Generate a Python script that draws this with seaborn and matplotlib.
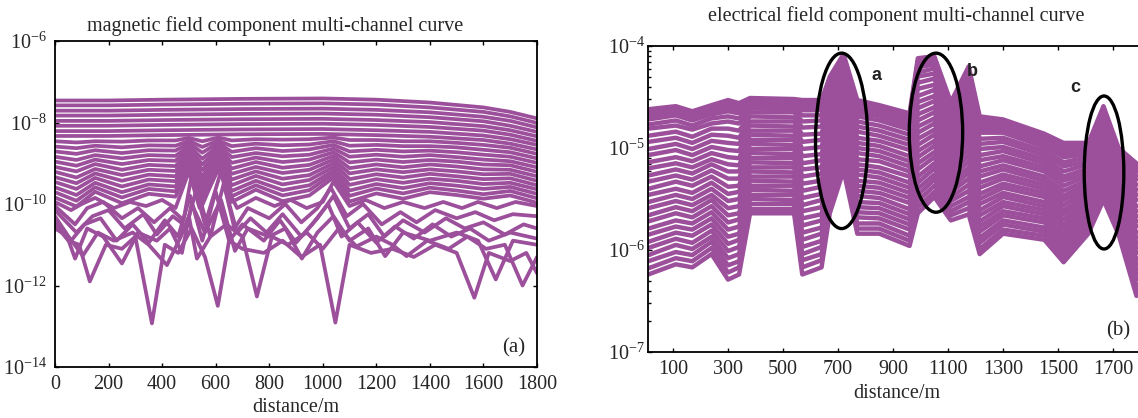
import numpy as np
import pandas as pd
import matplotlib
matplotlib.use("Agg")
import matplotlib.pyplot as plt
import seaborn as sns
from matplotlib.patches import Ellipse
from matplotlib.ticker import NullLocator, LogLocator

# ------------------------------------------------------------------
# DATA  (values are log10 of the field amplitude)
# ------------------------------------------------------------------
# ---- (a) magnetic field component: early (smooth) channels ----
mag_x_upper = [0, 200, 400, 700, 1000, 1200, 1400, 1600, 1700, 1800]
mag_ch01 = [-7.46, -7.46, -7.44, -7.42, -7.41, -7.44, -7.51, -7.63, -7.74, -7.90]
mag_ch02 = [-7.58, -7.58, -7.56, -7.54, -7.53, -7.56, -7.63, -7.74, -7.85, -8.01]
mag_ch03 = [-7.71, -7.71, -7.69, -7.67, -7.66, -7.69, -7.75, -7.86, -7.96, -8.12]
mag_ch04 = [-7.83, -7.83, -7.81, -7.79, -7.78, -7.81, -7.87, -7.97, -8.08, -8.23]
mag_ch05 = [-7.96, -7.96, -7.94, -7.92, -7.91, -7.94, -7.99, -8.09, -8.19, -8.34]
mag_ch06 = [-8.08, -8.08, -8.06, -8.04, -8.03, -8.06, -8.11, -8.20, -8.30, -8.45]
mag_ch07 = [-8.21, -8.21, -8.19, -8.17, -8.16, -8.19, -8.23, -8.32, -8.41, -8.55]
mag_ch08 = [-8.33, -8.33, -8.31, -8.29, -8.28, -8.31, -8.35, -8.43, -8.52, -8.66]

# ---- (a) middle channels ----
mag_x_mid = [0, 80, 150, 250, 350, 450, 500, 550, 610, 660, 750, 850, 950, 1040,
             1100, 1200, 1300, 1400, 1500, 1600, 1700, 1800]
mag_ch09 = [-8.46, -8.49, -8.46, -8.47, -8.44, -8.44, -8.38, -8.46, -8.37, -8.44, -8.41, -8.42, -8.41, -8.37, -8.43, -8.43, -8.46, -8.46, -8.50, -8.55, -8.62, -8.77]
mag_ch10 = [-8.59, -8.63, -8.57, -8.61, -8.56, -8.57, -8.45, -8.60, -8.44, -8.58, -8.52, -8.56, -8.54, -8.46, -8.57, -8.55, -8.58, -8.58, -8.61, -8.67, -8.73, -8.88]
mag_ch11 = [-8.71, -8.77, -8.68, -8.75, -8.68, -8.69, -8.51, -8.74, -8.50, -8.72, -8.63, -8.70, -8.66, -8.55, -8.71, -8.67, -8.71, -8.69, -8.73, -8.79, -8.84, -8.99]
mag_ch12 = [-8.84, -8.92, -8.80, -8.88, -8.80, -8.82, -8.58, -8.89, -8.57, -8.85, -8.75, -8.83, -8.79, -8.64, -8.84, -8.79, -8.84, -8.80, -8.85, -8.91, -8.95, -9.10]
mag_ch13 = [-8.96, -9.06, -8.91, -9.02, -8.92, -8.94, -8.64, -9.03, -8.63, -8.99, -8.86, -8.97, -8.91, -8.73, -8.98, -8.91, -8.97, -8.92, -8.96, -9.03, -9.05, -9.21]
mag_ch14 = [-9.09, -9.20, -9.02, -9.16, -9.04, -9.07, -8.71, -9.17, -8.70, -9.13, -8.97, -9.11, -9.04, -8.82, -9.12, -9.03, -9.10, -9.03, -9.08, -9.15, -9.16, -9.32]
mag_ch15 = [-9.21, -9.35, -9.14, -9.29, -9.16, -9.19, -8.77, -9.32, -8.76, -9.26, -9.09, -9.24, -9.16, -8.91, -9.25, -9.15, -9.22, -9.15, -9.20, -9.27, -9.26, -9.43]
mag_ch16 = [-9.34, -9.49, -9.25, -9.43, -9.28, -9.32, -8.84, -9.46, -8.83, -9.40, -9.20, -9.38, -9.29, -9.00, -9.39, -9.27, -9.35, -9.26, -9.32, -9.39, -9.37, -9.54]
mag_ch17 = [-9.46, -9.63, -9.36, -9.57, -9.40, -9.44, -8.90, -9.60, -8.89, -9.54, -9.31, -9.52, -9.41, -9.09, -9.53, -9.39, -9.48, -9.38, -9.43, -9.51, -9.48, -9.64]
mag_ch18 = [-9.59, -9.78, -9.48, -9.71, -9.52, -9.57, -8.97, -9.75, -8.96, -9.68, -9.43, -9.66, -9.54, -9.18, -9.67, -9.51, -9.61, -9.49, -9.55, -9.63, -9.58, -9.75]
mag_ch19 = [-9.71, -9.92, -9.59, -9.84, -9.63, -9.69, -9.03, -9.89, -9.02, -9.81, -9.54, -9.79, -9.66, -9.26, -9.80, -9.62, -9.74, -9.60, -9.67, -9.76, -9.68, -9.86]
mag_ch20 = [-9.84, -10.06, -9.70, -9.98, -9.75, -9.82, -9.10, -10.03, -9.09, -9.95, -9.65, -9.93, -9.79, -9.35, -9.94, -9.74, -9.87, -9.71, -9.78, -9.87, -9.79, -9.97]

# ---- (a) late (noisy) channels, each with its own stations ----
mag_x21 = [0, 60, 100, 150, 220, 280, 340, 400, 450, 500, 540, 610, 680, 750, 820, 880, 940, 1000, 1040, 1100, 1160, 1230, 1300, 1380, 1450, 1520, 1580, 1650, 1720, 1800]
mag_ch21 = [-9.95, -10.15, -10.0, -9.85, -10.1, -9.95, -10.05, -9.9, -10.1, -9.2, -10.1, -9.15, -10.1, -9.85, -10.05, -9.9, -10.1, -9.95, -9.45, -10.05, -9.9, -10.1, -9.95, -10.1, -9.95, -10.1, -9.95, -10.1, -9.95, -10.05]
mag_x22 = [0, 75, 120, 180, 250, 310, 370, 430, 480, 510, 560, 620, 670, 720, 800, 860, 920, 980, 1030, 1090, 1150, 1220, 1290, 1350, 1420, 1500, 1570, 1640, 1710, 1800]
mag_ch22 = [-10.05, -10.5, -10.1, -9.95, -10.35, -10.1, -10.45, -10.1, -10.4, -9.3, -10.5, -9.2, -10.6, -10.1, -10.35, -10.0, -10.45, -10.1, -9.6, -10.3, -10.0, -10.5, -10.2, -10.45, -10.15, -10.35, -10.2, -10.4, -10.25, -10.3]
mag_x23 = [0, 80, 140, 200, 260, 330, 380, 440, 490, 530, 580, 630, 680, 730, 790, 850, 920, 980, 1040, 1100, 1170, 1230, 1300, 1380, 1460, 1530, 1600, 1680, 1750, 1800]
mag_ch23 = [-10.15, -10.7, -10.3, -10.15, -10.6, -10.25, -10.75, -10.3, -10.55, -9.6, -10.8, -9.5, -10.7, -10.35, -10.7, -10.25, -10.8, -10.35, -9.8, -10.6, -10.25, -10.8, -10.4, -10.7, -10.35, -10.6, -10.45, -10.75, -10.5, -10.6]
mag_x24 = [0, 60, 110, 170, 230, 290, 350, 410, 460, 505, 550, 600, 650, 700, 780, 840, 900, 960, 1020, 1070, 1130, 1200, 1270, 1340, 1410, 1480, 1550, 1620, 1700, 1800]
mag_ch24 = [-10.3, -10.9, -10.5, -10.35, -10.9, -10.5, -10.95, -10.4, -10.8, -9.8, -10.9, -9.7, -10.9, -10.5, -10.9, -10.4, -10.95, -10.5, -10.0, -10.8, -10.45, -10.95, -10.55, -10.85, -10.5, -10.8, -10.6, -10.9, -10.7, -10.85]
mag_x25 = [0, 40, 75, 120, 180, 250, 310, 380, 430, 474, 510, 560, 620, 672, 720, 800, 860, 922, 980, 1040, 1100, 1170, 1233, 1300, 1400, 1500, 1580, 1646, 1710, 1800]
mag_ch25 = [-10.4, -10.7, -11.34, -10.6, -10.8, -11.46, -10.7, -10.9, -10.6, -11.2, -10.0, -10.7, -9.9, -11.15, -10.6, -10.8, -10.6, -11.34, -10.7, -10.3, -10.9, -10.6, -11.28, -10.7, -10.9, -10.7, -10.9, -11.85, -10.9, -11.0]
mag_x26 = [0, 50, 104, 160, 220, 290, 350, 418, 470, 500, 530, 580, 640, 700, 754, 810, 870, 940, 1000, 1060, 1126, 1200, 1260, 1313, 1390, 1470, 1540, 1610, 1680, 1746, 1800]
mag_ch26 = [-10.6, -10.8, -11.27, -10.7, -10.9, -10.7, -11.0, -11.5, -10.8, -10.3, -11.34, -10.8, -10.5, -10.8, -12.27, -10.8, -11.0, -10.7, -11.1, -10.6, -11.04, -10.8, -11.0, -11.28, -10.9, -11.1, -10.8, -11.1, -11.0, -12.0, -11.3]
mag_x27 = [0, 50, 90, 130, 190, 250, 300, 362, 410, 460, 510, 560, 608, 650, 700, 780, 850, 920, 990, 1047, 1100, 1180, 1260, 1340, 1420, 1500, 1566, 1620, 1700, 1760, 1800]
mag_ch27 = [-10.5, -10.9, -11.0, -11.9, -11.0, -11.1, -10.8, -12.93, -11.0, -11.2, -10.6, -11.3, -12.5, -10.9, -11.1, -11.2, -10.9, -11.3, -11.0, -12.91, -11.0, -11.2, -11.1, -11.3, -11.0, -11.2, -12.3, -11.2, -11.4, -11.2, -11.7]

# ---- (b) electrical field component ----
elec_x = [10, 110, 170, 240, 300, 340, 380, 540, 570, 640, 670, 720, 770, 850, 960, 990,
          1050, 1110, 1175, 1215, 1300, 1450, 1520, 1610, 1665, 1720, 1785]
elec_ch01 = [-4.62, -4.59, -4.64, -4.58, -4.53, -4.56, -4.51, -4.52, -4.53, -4.53, -4.30, -4.08, -4.53, -4.58, -4.66, -4.12, -4.10, -4.55, -4.20, -4.69, -4.72, -4.86, -4.95, -4.95, -4.59, -5.00, -5.15]
elec_ch02 = [-4.65, -4.62, -4.67, -4.61, -4.57, -4.59, -4.53, -4.54, -4.56, -4.56, -4.33, -4.10, -4.56, -4.61, -4.69, -4.15, -4.13, -4.57, -4.23, -4.72, -4.74, -4.88, -4.97, -4.97, -4.61, -5.02, -5.18]
elec_ch03 = [-4.69, -4.65, -4.70, -4.64, -4.60, -4.63, -4.56, -4.57, -4.60, -4.60, -4.35, -4.13, -4.58, -4.63, -4.71, -4.18, -4.16, -4.60, -4.26, -4.74, -4.77, -4.90, -5.00, -4.99, -4.63, -5.03, -5.20]
elec_ch04 = [-4.72, -4.68, -4.73, -4.67, -4.64, -4.66, -4.58, -4.59, -4.63, -4.63, -4.38, -4.15, -4.61, -4.66, -4.74, -4.21, -4.18, -4.62, -4.29, -4.77, -4.79, -4.92, -5.02, -5.00, -4.65, -5.05, -5.23]
elec_ch05 = [-4.77, -4.73, -4.78, -4.71, -4.69, -4.71, -4.61, -4.62, -4.68, -4.68, -4.42, -4.18, -4.65, -4.69, -4.78, -4.26, -4.22, -4.65, -4.33, -4.81, -4.82, -4.95, -5.06, -5.03, -4.67, -5.08, -5.27]
elec_ch06 = [-4.81, -4.78, -4.82, -4.76, -4.74, -4.76, -4.65, -4.65, -4.74, -4.73, -4.46, -4.22, -4.69, -4.73, -4.82, -4.30, -4.27, -4.69, -4.37, -4.85, -4.85, -4.99, -5.09, -5.06, -4.70, -5.10, -5.31]
elec_ch07 = [-4.88, -4.84, -4.89, -4.81, -4.81, -4.83, -4.69, -4.70, -4.80, -4.79, -4.51, -4.26, -4.74, -4.78, -4.87, -4.36, -4.32, -4.74, -4.43, -4.91, -4.90, -5.03, -5.14, -5.09, -4.74, -5.14, -5.36]
elec_ch08 = [-4.94, -4.90, -4.95, -4.87, -4.88, -4.90, -4.74, -4.74, -4.87, -4.86, -4.57, -4.31, -4.79, -4.83, -4.92, -4.42, -4.38, -4.78, -4.49, -4.96, -4.94, -5.07, -5.18, -5.13, -4.77, -5.17, -5.41]
elec_ch09 = [-5.01, -4.96, -5.01, -4.93, -4.95, -4.96, -4.78, -4.79, -4.94, -4.92, -4.62, -4.35, -4.84, -4.88, -4.97, -4.49, -4.43, -4.83, -4.55, -5.01, -4.99, -5.11, -5.23, -5.16, -4.81, -5.20, -5.46]
elec_ch10 = [-5.07, -5.02, -5.07, -4.99, -5.02, -5.03, -4.83, -4.83, -5.01, -4.99, -4.68, -4.40, -4.90, -4.93, -5.02, -4.55, -4.49, -4.88, -4.61, -5.07, -5.03, -5.15, -5.28, -5.20, -4.85, -5.24, -5.51]
elec_ch11 = [-5.14, -5.09, -5.13, -5.05, -5.09, -5.10, -4.87, -4.88, -5.08, -5.06, -4.73, -4.45, -4.95, -4.98, -5.08, -4.61, -4.54, -4.92, -4.66, -5.12, -5.08, -5.19, -5.32, -5.24, -4.88, -5.27, -5.57]
elec_ch12 = [-5.20, -5.15, -5.19, -5.11, -5.16, -5.17, -4.92, -4.92, -5.15, -5.12, -4.78, -4.49, -5.00, -5.03, -5.13, -4.67, -4.60, -4.97, -4.72, -5.18, -5.12, -5.23, -5.37, -5.27, -4.92, -5.31, -5.62]
elec_ch13 = [-5.27, -5.21, -5.25, -5.16, -5.23, -5.23, -4.96, -4.97, -5.21, -5.19, -4.84, -4.54, -5.05, -5.08, -5.18, -4.73, -4.65, -5.01, -4.78, -5.23, -5.17, -5.28, -5.42, -5.31, -4.96, -5.34, -5.67]
elec_ch14 = [-5.33, -5.27, -5.31, -5.22, -5.30, -5.30, -5.01, -5.01, -5.28, -5.25, -4.89, -4.58, -5.11, -5.13, -5.23, -4.79, -4.71, -5.06, -4.84, -5.28, -5.21, -5.32, -5.47, -5.34, -5.00, -5.37, -5.72]
elec_ch15 = [-5.40, -5.33, -5.37, -5.28, -5.38, -5.37, -5.05, -5.06, -5.35, -5.32, -4.94, -4.63, -5.16, -5.19, -5.28, -4.85, -4.76, -5.11, -4.90, -5.34, -5.26, -5.36, -5.51, -5.38, -5.03, -5.41, -5.77]
elec_ch16 = [-5.46, -5.40, -5.44, -5.34, -5.45, -5.43, -5.10, -5.10, -5.42, -5.38, -5.00, -4.67, -5.21, -5.24, -5.34, -4.91, -4.82, -5.15, -4.95, -5.39, -5.30, -5.40, -5.56, -5.41, -5.07, -5.44, -5.83]
elec_ch17 = [-5.53, -5.46, -5.50, -5.40, -5.52, -5.50, -5.14, -5.15, -5.49, -5.45, -5.05, -4.72, -5.26, -5.29, -5.39, -4.97, -4.87, -5.20, -5.01, -5.45, -5.35, -5.44, -5.61, -5.45, -5.11, -5.48, -5.88]
elec_ch18 = [-5.59, -5.52, -5.56, -5.46, -5.59, -5.57, -5.19, -5.19, -5.56, -5.51, -5.10, -4.76, -5.32, -5.34, -5.44, -5.03, -4.93, -5.25, -5.07, -5.50, -5.39, -5.48, -5.65, -5.48, -5.14, -5.51, -5.93]
elec_ch19 = [-5.66, -5.58, -5.62, -5.51, -5.66, -5.64, -5.23, -5.24, -5.62, -5.58, -5.16, -4.81, -5.37, -5.39, -5.49, -5.09, -4.98, -5.29, -5.13, -5.55, -5.44, -5.53, -5.70, -5.52, -5.18, -5.54, -5.98]
elec_ch20 = [-5.72, -5.64, -5.68, -5.57, -5.73, -5.70, -5.28, -5.28, -5.69, -5.65, -5.21, -4.86, -5.42, -5.44, -5.54, -5.15, -5.04, -5.34, -5.19, -5.61, -5.48, -5.57, -5.75, -5.56, -5.22, -5.58, -6.03]
elec_ch21 = [-5.79, -5.71, -5.74, -5.63, -5.80, -5.77, -5.32, -5.33, -5.76, -5.71, -5.27, -4.90, -5.47, -5.49, -5.60, -5.21, -5.09, -5.39, -5.24, -5.66, -5.53, -5.61, -5.79, -5.59, -5.25, -5.61, -6.09]
elec_ch22 = [-5.85, -5.77, -5.80, -5.69, -5.87, -5.84, -5.37, -5.37, -5.83, -5.78, -5.32, -4.95, -5.53, -5.54, -5.65, -5.28, -5.15, -5.43, -5.30, -5.72, -5.57, -5.65, -5.84, -5.63, -5.29, -5.65, -6.14]
elec_ch23 = [-5.92, -5.83, -5.86, -5.75, -5.94, -5.90, -5.41, -5.42, -5.90, -5.84, -5.37, -4.99, -5.58, -5.59, -5.70, -5.34, -5.20, -5.48, -5.36, -5.77, -5.62, -5.69, -5.89, -5.66, -5.33, -5.68, -6.19]
elec_ch24 = [-5.98, -5.89, -5.93, -5.81, -6.01, -5.97, -5.46, -5.46, -5.97, -5.91, -5.43, -5.04, -5.63, -5.64, -5.75, -5.40, -5.26, -5.52, -5.42, -5.82, -5.66, -5.73, -5.93, -5.70, -5.36, -5.71, -6.24]
elec_ch25 = [-6.05, -5.95, -5.99, -5.87, -6.08, -6.04, -5.50, -5.51, -6.04, -5.97, -5.48, -5.08, -5.68, -5.69, -5.80, -5.46, -5.31, -5.57, -5.48, -5.88, -5.71, -5.78, -5.98, -5.73, -5.40, -5.75, -6.29]
elec_ch26 = [-6.11, -6.02, -6.05, -5.92, -6.15, -6.11, -5.55, -5.55, -6.10, -6.04, -5.53, -5.13, -5.74, -5.74, -5.86, -5.52, -5.37, -5.62, -5.53, -5.93, -5.75, -5.82, -6.03, -5.77, -5.44, -5.78, -6.35]
elec_ch27 = [-6.18, -6.08, -6.11, -5.98, -6.22, -6.17, -5.60, -5.60, -6.17, -6.10, -5.59, -5.17, -5.79, -5.79, -5.91, -5.58, -5.43, -5.66, -5.59, -5.99, -5.80, -5.86, -6.07, -5.80, -5.47, -5.82, -6.40]
elec_ch28 = [-6.24, -6.14, -6.17, -6.04, -6.29, -6.24, -5.64, -5.64, -6.24, -6.17, -5.64, -5.22, -5.84, -5.84, -5.96, -5.64, -5.48, -5.71, -5.65, -6.04, -5.84, -5.90, -6.12, -5.84, -5.51, -5.85, -6.45]

# tick labels / annotations
mag_xticks = [0, 200, 400, 600, 800, 1000, 1200, 1400, 1600, 1800]
mag_yticks_exp = [-14, -12, -10, -8, -6]
elec_xticks = [100, 300, 500, 700, 900, 1100, 1300, 1500, 1700]
elec_yticks_exp = [-7, -6, -5, -4]
anomaly_names = ["a", "b", "c"]
anomaly_center_x = [713, 1056, 1667]
anomaly_center_exp = [-4.93, -4.85, -5.24]
anomaly_width_m = [190, 194, 144]
anomaly_height_dec = [1.72, 1.56, 1.50]
anomaly_label_x = [841, 1188, 1562]
anomaly_label_exp = [-4.29, -4.25, -4.41]

# ------------------------------------------------------------------
PURPLE = "#9c509b"


def long_table(channels):
    rows = []
    for name, xs, vals in channels:
        assert len(xs) == len(vals), name
        for x, v in zip(xs, vals):
            rows.append((name, x, 10.0 ** v))
    return pd.DataFrame(rows, columns=["channel", "distance", "value"])


mag_upper = [mag_ch01, mag_ch02, mag_ch03, mag_ch04, mag_ch05, mag_ch06, mag_ch07, mag_ch08]
mag_mid = [mag_ch09, mag_ch10, mag_ch11, mag_ch12, mag_ch13, mag_ch14, mag_ch15, mag_ch16,
           mag_ch17, mag_ch18, mag_ch19, mag_ch20]
mag_late = [(mag_x21, mag_ch21), (mag_x22, mag_ch22), (mag_x23, mag_ch23), (mag_x24, mag_ch24),
            (mag_x25, mag_ch25), (mag_x26, mag_ch26), (mag_x27, mag_ch27)]

mag_channels = []
for i, v in enumerate(mag_upper):
    mag_channels.append((f"m{i+1:02d}", mag_x_upper, v))
for i, v in enumerate(mag_mid):
    mag_channels.append((f"m{i+9:02d}", mag_x_mid, v))
for i, (xs, v) in enumerate(mag_late):
    mag_channels.append((f"m{i+21:02d}", xs, v))
df_mag = long_table(mag_channels)

elec_list = [elec_ch01, elec_ch02, elec_ch03, elec_ch04, elec_ch05, elec_ch06, elec_ch07,
             elec_ch08, elec_ch09, elec_ch10, elec_ch11, elec_ch12, elec_ch13, elec_ch14,
             elec_ch15, elec_ch16, elec_ch17, elec_ch18, elec_ch19, elec_ch20, elec_ch21,
             elec_ch22, elec_ch23, elec_ch24, elec_ch25, elec_ch26, elec_ch27, elec_ch28]
df_elec = long_table([(f"e{i+1:02d}", elec_x, v) for i, v in enumerate(elec_list)])

# ------------------------------------------------------------------
sns.set_theme(style="white")
plt.rcParams["font.family"] = ["Liberation Serif", "DejaVu Serif"]
plt.rcParams["mathtext.fontset"] = "stix"

W, H = 1138, 418
fig = plt.figure(figsize=(W / 100, H / 100), dpi=100)
fig.patch.set_facecolor("white")

ax1 = fig.add_axes([55 / W, 1 - 367 / H, 482 / W, 326 / H])
ax2 = fig.add_axes([648 / W, 1 - 352 / H, 497 / W, 306 / H])

sns.lineplot(data=df_mag, x="distance", y="value", hue="channel", estimator=None,
             sort=False, palette=[PURPLE] * df_mag["channel"].nunique(), legend=False,
             linewidth=2.7, ax=ax1)
sns.lineplot(data=df_elec, x="distance", y="value", hue="channel", estimator=None,
             sort=False, palette=[PURPLE] * df_elec["channel"].nunique(), legend=False,
             linewidth=3.2, ax=ax2)

TICK_FS = 14.5
TITLE_FS = 14.5

# ---- left axes ----
ax1.set_yscale("log")
ax1.set_xlim(0, 1800)
ax1.set_ylim(10.0 ** -14, 10.0 ** -6)
ax1.set_xticks(mag_xticks)
ax1.set_yticks([10.0 ** e for e in mag_yticks_exp])
ax1.yaxis.set_minor_locator(NullLocator())
ax1.tick_params(axis="both", which="major", direction="in", length=3, width=1,
                labelsize=TICK_FS, top=True, right=True, bottom=True, left=True, color="black")
ax1.tick_params(axis="y", pad=6)
ax1.tick_params(axis="x", pad=6)
ax1.set_xlabel("distance/m", fontsize=TICK_FS, labelpad=3)
ax1.set_ylabel("")
ax1.set_title("magnetic field component multi-channel curve", fontsize=TITLE_FS, x=0.456, pad=7)
ax1.text(0.975, 0.06, "(a)", transform=ax1.transAxes, ha="right", va="center", fontsize=15)

# ---- right axes ----
ax2.set_yscale("log")
ax2.set_xlim(9, 1816)
ax2.set_ylim(10.0 ** -7, 10.0 ** -4)
ax2.set_xticks(elec_xticks)
ax2.set_yticks([10.0 ** e for e in elec_yticks_exp])
ax2.yaxis.set_minor_locator(LogLocator(base=10, subs=np.arange(2, 10)))
ax2.tick_params(axis="both", which="major", direction="in", length=3, width=1,
                labelsize=TICK_FS, top=True, bottom=True, left=True, right=False, color="black")
ax2.tick_params(axis="y", which="minor", direction="in", length=2.5, width=1, left=True,
                right=False, color="black")
ax2.tick_params(axis="y", pad=2)
ax2.tick_params(axis="x", pad=6)
ax2.set_xlabel("distance/m", fontsize=TICK_FS, labelpad=3)
ax2.set_ylabel("")
ax2.set_title("electrical field component multi-channel curve", fontsize=TITLE_FS, pad=18)
ax2.text(0.97, 0.07, "(b)", transform=ax2.transAxes, ha="right", va="center", fontsize=15)
ax2.spines["right"].set_visible(False)

for ax in (ax1, ax2):
    for s in ax.spines.values():
        s.set_color("black")
        s.set_linewidth(1.3)
    ax.set_facecolor("white")
    ax.grid(False)

# ---- anomaly ellipses and labels ----
fig.canvas.draw()
to_axes = ax2.transData + ax2.transAxes.inverted()
for name, cx, ce, w, h, lx, le in zip(anomaly_names, anomaly_center_x, anomaly_center_exp,
                                      anomaly_width_m, anomaly_height_dec,
                                      anomaly_label_x, anomaly_label_exp):
    c = to_axes.transform((cx, 10.0 ** ce))
    left = to_axes.transform((cx - w / 2, 10.0 ** ce))
    right = to_axes.transform((cx + w / 2, 10.0 ** ce))
    top = to_axes.transform((cx, 10.0 ** (ce + h / 2)))
    bot = to_axes.transform((cx, 10.0 ** (ce - h / 2)))
    e = Ellipse((c[0], c[1]), right[0] - left[0], top[1] - bot[1], transform=ax2.transAxes,
                fill=False, edgecolor="black", linewidth=2.4, zorder=5)
    ax2.add_patch(e)
    ax2.text(lx, 10.0 ** le, name, fontsize=13, fontweight="bold",
             family=["Liberation Sans", "DejaVu Sans"], ha="center", va="center",
             color="#222222", zorder=6)

fig.savefig("out.png", dpi=100, facecolor="white")
